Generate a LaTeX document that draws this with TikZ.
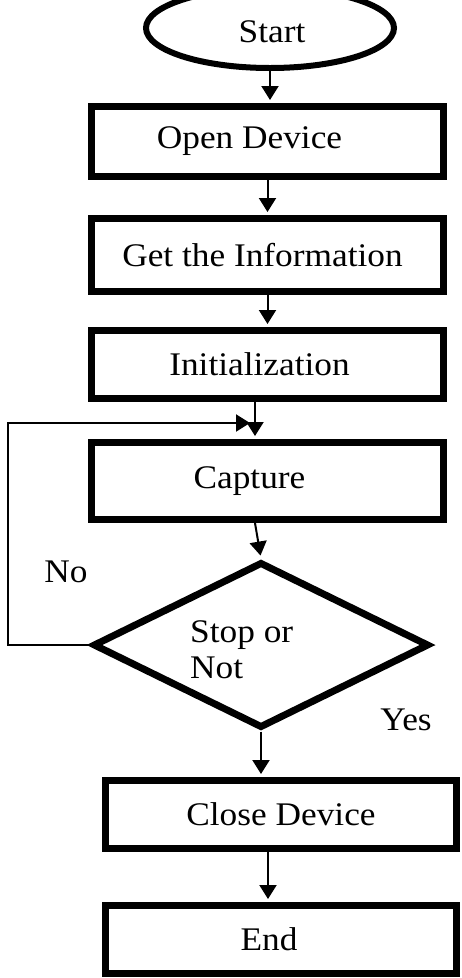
\documentclass[tikz,border=0pt]{standalone}
\usepackage{fontspec}
\setmainfont{Liberation Serif}[FakeStretch=1.07]
\usetikzlibrary{arrows.meta,shapes.geometric}
\newcommand{\tshift}[1]{\hspace*{#1}}
\begin{document}
\begin{tikzpicture}[x=1pt,y=-1pt,
  txt/.style={font=\fontsize{33}{36}\selectfont},
  box/.style={draw, rectangle, line width=7pt, minimum width=352pt, inner sep=0pt, txt},
  startbox/.style={draw, ellipse, line width=6pt, minimum width=248pt, minimum height=80pt, inner sep=0pt, txt},
  decbox/.style={draw, diamond, line width=7pt, minimum width=336pt, minimum height=166pt, inner sep=0pt},
  lbl/.style={inner sep=0pt, txt},
  conn/.style={line width=2pt, shorten >=3pt, -{Triangle[width=17pt,length=14pt]}}]
\useasboundingbox (0,0) rectangle (462,978);
\fill[white] (0,0) rectangle (462,978);

\node[startbox] (start) at (270,28) {\tshift{4pt}\raisebox{-4pt}[\height][\depth]{Start}};
\node[box, minimum height=70pt] (open) at (267.5,141.5) {\tshift{-36pt}Open Device};
\node[box, minimum height=73pt] (get) at (267.5,255) {\tshift{-10pt}Get the Information};
\node[box, minimum height=68pt] (init) at (267.5,364.5) {\tshift{-16pt}Initialization};
\node[box, minimum height=77pt] (cap) at (267.5,481) {\tshift{-36pt}Capture};
\node[decbox] (dec) at (261,645) {};
\node[lbl, align=left, anchor=west] (dectxt) at (190,650) {Stop or\\Not};
\node[box, minimum width=351pt, minimum height=68pt] (close) at (281,814.5) {Close Device};
\node[box, minimum width=351pt, minimum height=68pt] (end) at (281,939.5) {\tshift{-24pt}End};

\node[lbl] (yes) at (406,720) {Yes};
\node[lbl] (no) at (66,572) {No};

\coordinate (lt) at (8,423);
\coordinate (le) at (250,423);

\draw[conn] (start.south) -- (start.south |- open.north);
\draw[conn] (open.south) -- (get.north);
\draw[conn] (get.south) -- (init.north);
\draw[conn] ([xshift=-12.5pt]init.south) -- ([xshift=-12.5pt]cap.north);
\draw[conn] ([xshift=-12.5pt]cap.south) -- (dec.north);
\draw[conn, shorten >=0pt] (dec.west) -| (lt) -- (le);
\draw[conn] (dec.south) -- (dec.south |- close.north);
\draw[conn] ([xshift=-13pt]close.south) -- ([xshift=-13pt]end.north);
\end{tikzpicture}
\end{document}
